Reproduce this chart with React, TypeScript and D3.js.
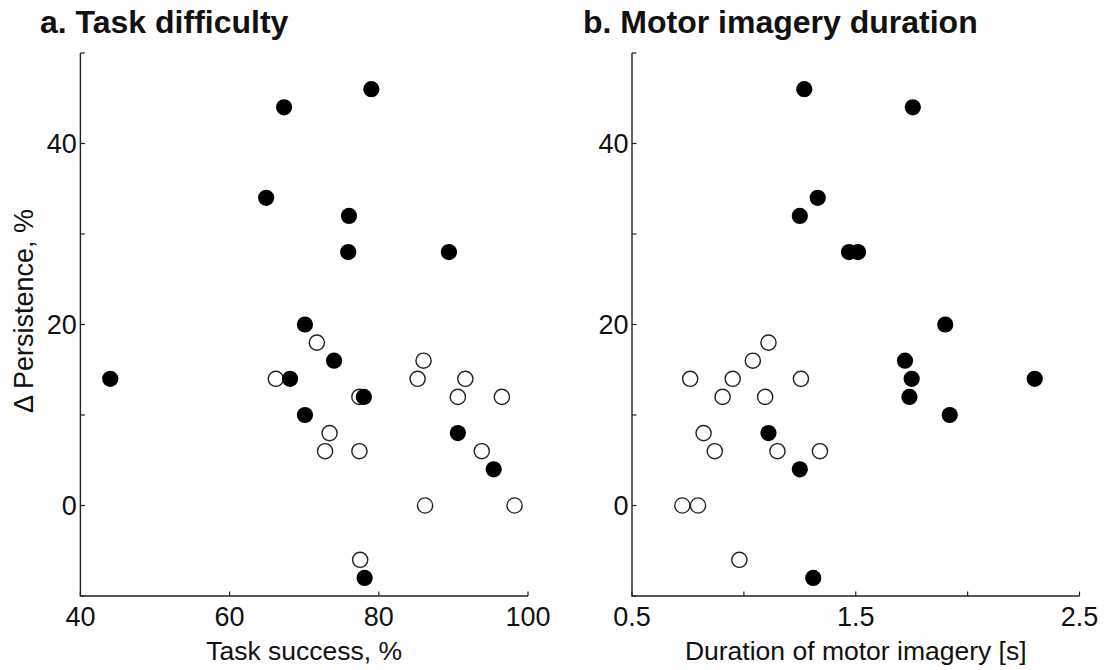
import React from "react";
import * as d3 from "d3";

// Panel a: task success (%) vs Δ persistence (%)
const leftFilledX = [67.3, 79.0, 64.9, 76.0, 75.9, 89.4, 70.1, 74.0, 44.0, 68.1, 78.0, 70.1, 90.6, 95.4, 78.1];
const leftFilledY = [44, 46, 34, 32, 28, 28, 20, 16, 14, 14, 12, 10, 8, 4, -8];
const leftOpenX = [71.7, 66.2, 77.4, 73.4, 72.8, 77.4, 86.0, 85.2, 91.6, 90.6, 96.5, 93.8, 86.2, 98.2, 77.5];
const leftOpenY = [18, 14, 12, 8, 6, 6, 16, 14, 14, 12, 12, 6, 0, 0, -6];

// Panel b: duration of motor imagery (s) vs Δ persistence (%)
const rightFilledX = [1.27, 1.755, 1.33, 1.25, 1.47, 1.51, 1.9, 1.72, 1.75, 2.3, 1.74, 1.92, 1.11, 1.25, 1.31];
const rightFilledY = [46, 44, 34, 32, 28, 28, 20, 16, 14, 14, 12, 10, 8, 4, -8];
const rightOpenX = [1.11, 1.04, 0.76, 0.95, 1.255, 0.905, 1.095, 0.82, 0.87, 1.15, 1.34, 0.725, 0.795, 0.98];
const rightOpenY = [18, 16, 14, 14, 14, 12, 12, 8, 6, 6, 6, 0, 0, -6];

const yTicks = [-10, 0, 10, 20, 30, 40, 50];
const yTickLabels = [0, 20, 40];
const leftXTicks = [40, 60, 80, 100];
const leftXTickLabels = ["40", "60", "80", "100"];
const rightXTicks = [0.5, 1.0, 1.5, 2.0, 2.5];
const rightXTickLabels = ["0.5", "1.5", "2.5"];

const FONT = "'Liberation Sans', Arial, Helvetica, sans-serif";
const AX = "#222";

type PanelProps = {
  title: string;
  titleX: number;
  xDomain: [number, number];
  xRange: [number, number];
  xTicks: number[];
  xTickLabels: string[];
  xLabel: string;
  filledX: number[];
  filledY: number[];
  openX: number[];
  openY: number[];
  yLabel?: string;
};

function Panel(p: PanelProps) {
  const x = d3.scaleLinear().domain(p.xDomain).range(p.xRange);
  const y = d3.scaleLinear().domain([-10, 50]).range([596, 53]);
  const x0 = p.xRange[0];
  const x1 = p.xRange[1];
  const yb = y(-10);
  const yt = y(50);
  const tl = 4.5;
  return (
    <g>
      <text x={p.titleX} y={33} fontFamily={FONT} fontWeight="bold" fontSize={32} fill="#111">
        {p.title}
      </text>
      {/* axes */}
      <path d={`M${x0},${yt}V${yb}H${x1}`} fill="none" stroke={AX} strokeWidth={1.4} />
      {yTicks.map((t) => (
        <line key={"yt" + t} x1={x0} x2={x0 + tl} y1={y(t)} y2={y(t)} stroke={AX} strokeWidth={1.2} />
      ))}
      {yTickLabels.map((t) => (
        <text key={"yl" + t} x={x0 - 3.5} y={y(t)} dy="0.36em" textAnchor="end" fontFamily={FONT} fontSize={27} fill="#111">
          {t}
        </text>
      ))}
      {p.xTicks.map((t) => (
        <line key={"xt" + t} x1={x(t)} x2={x(t)} y1={yb} y2={yb - tl} stroke={AX} strokeWidth={1.2} />
      ))}
      {p.xTickLabels.map((t) => (
        <text key={"xl" + t} x={x(+t)} y={626} textAnchor="middle" fontFamily={FONT} fontSize={27} fill="#111">
          {t}
        </text>
      ))}
      <text x={(x0 + x1) / 2} y={660} textAnchor="middle" fontFamily={FONT} fontSize={26.5} fill="#111">
        {p.xLabel}
      </text>
      {p.yLabel && (
        <text
          transform={`translate(33,${311}) rotate(-90)`}
          textAnchor="middle"
          fontFamily={FONT}
          fontSize={27}
          fill="#111"
        >
          {p.yLabel}
        </text>
      )}
      {p.openX.map((v, i) => (
        <circle key={"o" + i} cx={x(v)} cy={y(p.openY[i])} r={7.6} fill="#fff" stroke="#222" strokeWidth={1.4} />
      ))}
      {p.filledX.map((v, i) => (
        <circle key={"f" + i} cx={x(v)} cy={y(p.filledY[i])} r={8.1} fill="#000" />
      ))}
    </g>
  );
}

export default function App() {
  return (
    <svg
      width={1105}
      height={670}
      style={{ position: "absolute", left: 0, top: 0, background: "#fff" }}
    >
      <rect width={1105} height={670} fill="#fff" />
      <Panel
        title="a. Task difficulty"
        titleX={40}
        xDomain={[40, 100]}
        xRange={[80.4, 528]}
        xTicks={leftXTicks}
        xTickLabels={leftXTickLabels}
        xLabel="Task success, %"
        filledX={leftFilledX}
        filledY={leftFilledY}
        openX={leftOpenX}
        openY={leftOpenY}
        yLabel="Δ Persistence, %"
      />
      <Panel
        title="b. Motor imagery duration"
        titleX={583}
        xDomain={[0.5, 2.5]}
        xRange={[632, 1079.5]}
        xTicks={rightXTicks}
        xTickLabels={rightXTickLabels}
        xLabel="Duration of motor imagery [s]"
        filledX={rightFilledX}
        filledY={rightFilledY}
        openX={rightOpenX}
        openY={rightOpenY}
      />
    </svg>
  );
}
